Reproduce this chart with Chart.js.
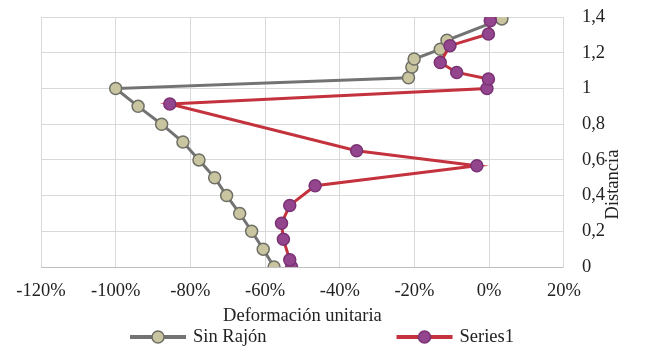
<!DOCTYPE html>
<html>
<head>
<meta charset="utf-8">
<script src="https://cdn.jsdelivr.net/npm/chart.js@4/dist/chart.umd.min.js"></script>
<style>
  body { margin: 0; background: #fff; }
  #wrap { width: 650px; height: 361px; }
</style>
</head>
<body>
<div id="wrap"><canvas id="grafico"></canvas></div>
<script>
// deformacion unitaria (%) y distancia
var sinRajonX = [-57.6, -60.5, -63.6, -66.8, -70.3, -73.5, -77.7, -82.0, -87.7, -94.0, -100, -21.6, -20.7, -20.1, -13.1, -11.3, 3.4];
var sinRajonY = [0, 0.1, 0.2, 0.3, 0.4, 0.5, 0.6, 0.7, 0.8, 0.9, 1.0, 1.06, 1.12, 1.165, 1.22, 1.27, 1.39];
var series1X = [-52.9, -53.4, -55.1, -55.6, -53.4, -46.6, -3.3, -35.5, -85.5, -0.6, -0.2, -8.7, -13.1, -10.5, -0.2, 0.3];
var series1Y = [0, 0.04, 0.155, 0.245, 0.345, 0.455, 0.567, 0.651, 0.913, 1.0, 1.053, 1.09, 1.146, 1.24, 1.305, 1.38];
var nombres = ['Sin Rajón', 'Series1'];
var xTicks = [-120, -100, -80, -60, -40, -20, 0, 20];

var fuente = 'Liberation Serif, Times New Roman, serif';
var tam = 18.5;
var estilos = [
    { line: '#737373', fill: '#c8c5a0', border: '#6f6f66' },
    { line: '#c4323d', fill: '#93468e', border: '#7b3274' }
];

function puntos(xs, ys) {
    return xs.map(function (x, i) { return { x: x, y: ys[i] }; });
}

// titulo del eje derecho, leido de abajo hacia arriba
const tituloY = {
    id: 'tituloY',
    afterDraw(chart) {
        const ctx = chart.ctx;
        const area = chart.chartArea;
        ctx.save();
        ctx.translate(chart.width - 37, area.top + (area.bottom - area.top) * 0.67);
        ctx.rotate(-Math.PI / 2);
        ctx.font = tam + 'px ' + fuente;
        ctx.fillStyle = '#222';
        ctx.textAlign = 'center';
        ctx.textBaseline = 'middle';
        ctx.fillText('Distancia', 0, 0);
        ctx.restore();
    }
};

// leyenda con linea y marcador
const leyenda = {
    id: 'leyenda',
    afterDraw(chart) {
        const ctx = chart.ctx;
        const y = chart.height - 24;
        const largo = 56, sep = 130;
        ctx.save();
        ctx.font = tam + 'px ' + fuente;
        const anchos = nombres.map(n => largo + 7 + ctx.measureText(n).width);
        let x = (chart.width - (anchos[0] + sep + anchos[1])) / 2 - 3;
        nombres.forEach(function (n, i) {
            const e = estilos[i];
            ctx.strokeStyle = e.line;
            ctx.lineWidth = 4;
            ctx.beginPath();
            ctx.moveTo(x, y);
            ctx.lineTo(x + largo, y);
            ctx.stroke();
            ctx.beginPath();
            ctx.arc(x + largo / 2, y, 6, 0, Math.PI * 2);
            ctx.fillStyle = e.fill;
            ctx.fill();
            ctx.lineWidth = 1.5;
            ctx.strokeStyle = e.border;
            ctx.stroke();
            ctx.fillStyle = '#222';
            ctx.textBaseline = 'middle';
            ctx.fillText(n, x + largo + 7, y);
            x += anchos[i] + sep;
        });
        ctx.restore();
    }
};

const ctx = document.getElementById('grafico').getContext('2d');
const chart = new Chart(ctx, {
    type: 'scatter',
    data: {
        datasets: [
            {
                label: nombres[0],
                data: puntos(sinRajonX, sinRajonY),
                showLine: true,
                borderColor: estilos[0].line,
                borderWidth: 3,
                pointRadius: 6,
                pointBackgroundColor: estilos[0].fill,
                pointBorderColor: estilos[0].border,
                pointBorderWidth: 1.5,
                order: 1
            },
            {
                label: nombres[1],
                data: puntos(series1X, series1Y),
                showLine: true,
                borderColor: estilos[1].line,
                borderWidth: 3,
                pointRadius: 6,
                pointBackgroundColor: estilos[1].fill,
                pointBorderColor: estilos[1].border,
                pointBorderWidth: 1.5,
                order: 0
            }
        ]
    },
    options: {
        responsive: true,
        maintainAspectRatio: false,
        animation: false,
        layout: { autoPadding: false, padding: { top: 0, right: 39, bottom: 36, left: 41 } },
        plugins: {
            legend: { display: false },
            tooltip: { enabled: false }
        },
        scales: {
            x: {
                type: 'linear',
                min: xTicks[0],
                max: xTicks[xTicks.length - 1],
                afterBuildTicks: function (axis) {
                    axis.ticks = xTicks.map(v => ({ value: v }));
                },
                grid: { color: '#d9d9d9', drawTicks: true, tickLength: 13, tickColor: 'rgba(0,0,0,0)' },
                border: { color: '#bfbfbf' },
                ticks: {
                    padding: 2,
                    color: '#222',
                    font: { family: fuente, size: tam, lineHeight: 1 },
                    callback: v => v + '%'
                },
                title: {
                    display: true,
                    text: 'Deformación unitaria',
                    color: '#222',
                    font: { family: fuente, size: tam, lineHeight: 1 },
                    padding: { top: 4, bottom: 0 }
                }
            },
            y: {
                type: 'linear',
                position: 'right',
                min: 0,
                max: 1.4,
                ticks: {
                    stepSize: 0.2,
                    padding: 6,
                    color: '#222',
                    font: { family: fuente, size: tam },
                    callback: v => Number(v.toFixed(1)).toString().replace('.', ',')
                },
                grid: { color: '#d9d9d9', drawTicks: true, tickLength: 12, tickColor: 'rgba(0,0,0,0)' },
                border: { color: '#d9d9d9' }
            }
        }
    },
    plugins: [tituloY, leyenda]
});
</script>
</body>
</html>
